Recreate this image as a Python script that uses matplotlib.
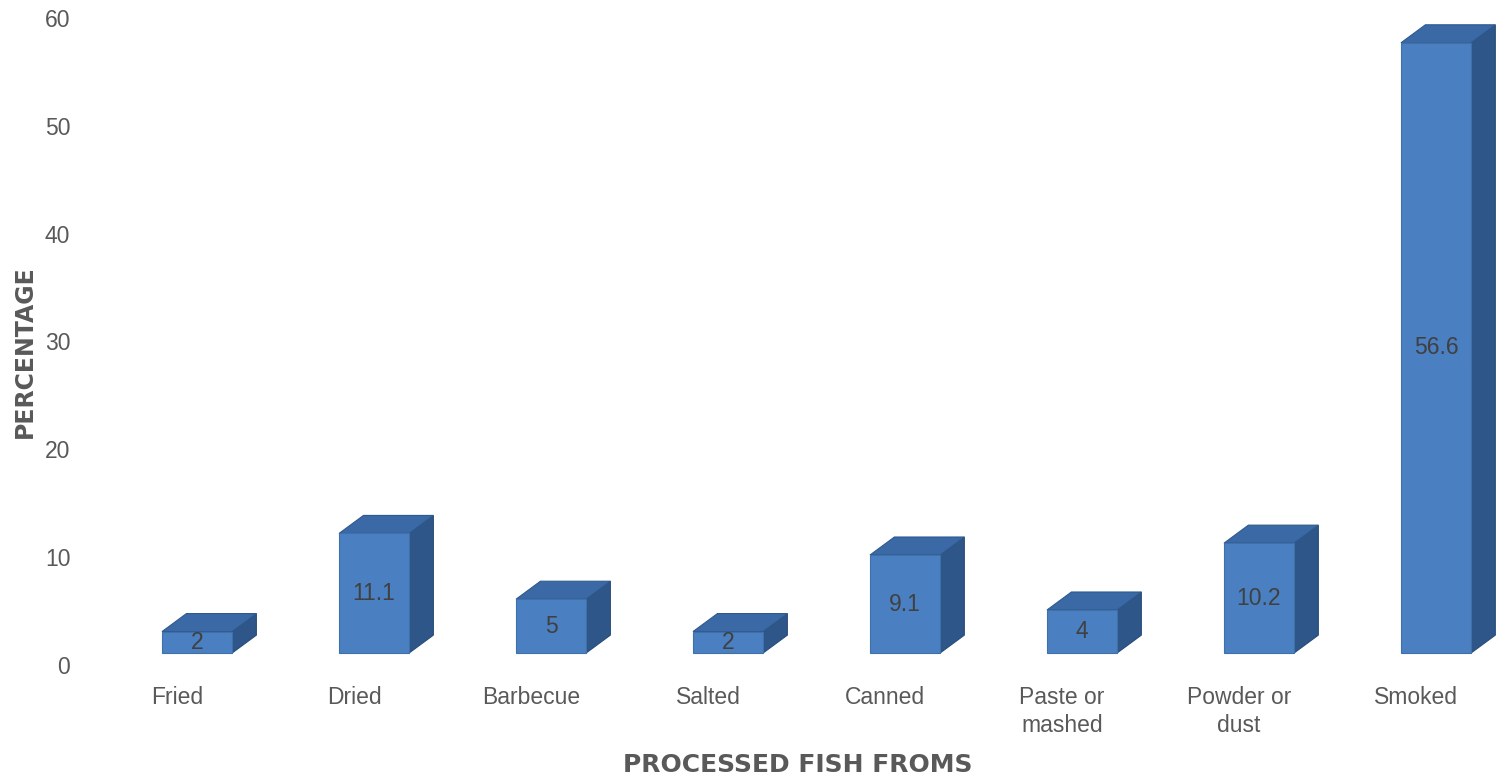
import matplotlib
matplotlib.use('Agg')
import matplotlib.pyplot as plt
from matplotlib.patches import Polygon

plt.rcParams['font.family'] = ['Liberation Sans', 'DejaVu Sans']

categories = ['Fried', 'Dried', 'Barbecue', 'Salted', 'Canned',
              'Paste or\nmashed', 'Powder or\ndust', 'Smoked']
values = [2, 11.1, 5, 2, 9.1, 4, 10.2, 56.6]
value_labels = ['2', '11.1', '5', '2', '9.1', '4', '10.2', '56.6']
yticks = [0, 10, 20, 30, 40, 50, 60]

# 3d look
base = 1.1
width = 0.395
shift = 0.113
dx = 0.138
dy = 1.67
front_col = '#4a7fc1'
top_col = '#3b69a6'
side_col = '#2e5688'

W, H = 1497, 779
fig = plt.figure(figsize=(W / 100, H / 100), dpi=100)
ax = fig.add_axes([80 / W, (H - 665) / H, (W - 80) / W, 647 / H])

for i, v in enumerate(values):
    x0 = i + shift - width / 2
    x1 = i + shift + width / 2
    y0 = base
    y1 = base + v
    front = Polygon([(x0, y0), (x1, y0), (x1, y1), (x0, y1)],
                    closed=True, fc=front_col, ec='#3f70aa', lw=0.8, clip_on=False, zorder=3)
    top = Polygon([(x0, y1), (x1, y1), (x1 + dx, y1 + dy), (x0 + dx, y1 + dy)],
                  closed=True, fc=top_col, ec='#2f5a8e', lw=0.8, clip_on=False, zorder=2)
    side = Polygon([(x1, y0), (x1 + dx, y0 + dy), (x1 + dx, y1 + dy), (x1, y1)],
                   closed=True, fc=side_col, ec='#284c7a', lw=0.8, clip_on=False, zorder=2)
    ax.add_patch(side)
    ax.add_patch(top)
    ax.add_patch(front)
    ax.text(i + shift, base + v / 2, value_labels[i], ha='center', va='center',
            fontsize=16.5, color='#404040', zorder=4)

ax.set_xlim(-0.548, -0.548 + 8.006)
ax.set_ylim(0, 60)
ax.set_yticks(yticks)
ax.set_xticks(range(len(categories)))
ax.set_xticklabels(categories, fontsize=16.5, color='#595959', linespacing=1.27)
ax.tick_params(axis='y', labelsize=16.5, labelcolor='#595959', length=0, pad=7)
ax.tick_params(axis='x', length=0, pad=15)
for s in ax.spines.values():
    s.set_visible(False)

fig.text(798 / W, 1 - 765 / H, 'PROCESSED FISH FROMS', ha='center', va='center',
         fontsize=18, fontweight='bold', color='#595959', family='DejaVu Sans')
fig.text(25 / W, 1 - 352 / H, 'PERCENTAGE', ha='center', va='center', rotation=90,
         fontsize=17, fontweight='bold', color='#595959', family='DejaVu Sans')

fig.savefig('out.png', dpi=100)
